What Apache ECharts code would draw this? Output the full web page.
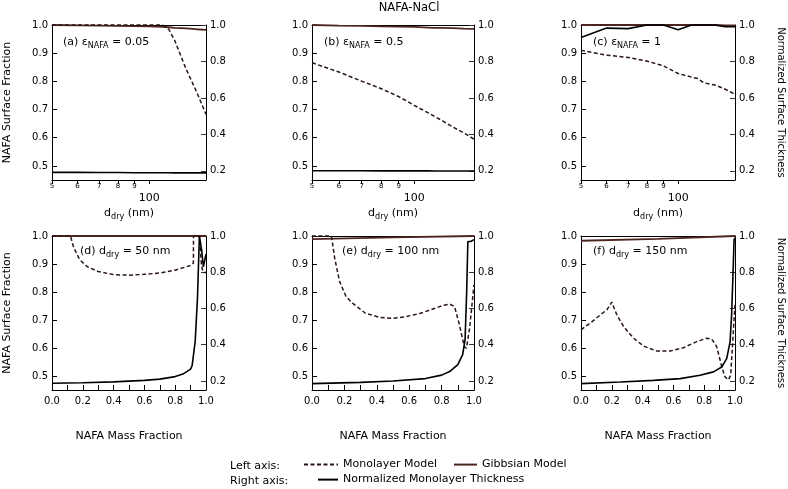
<!DOCTYPE html>
<html><head><meta charset="utf-8">
<script src="https://cdn.jsdelivr.net/npm/echarts@6/dist/echarts.min.js"></script>
<style>html,body{margin:0;padding:0;background:#fff}#c{width:788px;height:489px}</style>
</head><body><div id="c"></div>
<script>
const FONT = 'DejaVu Sans';

// ---- Top row: dry diameter (nm) on a log axis ----
const dTop   = [50, 60, 70, 80, 90, 100, 110, 115, 120, 130, 140, 150];
const monoA  = [1.0, 1.0, 1.0, 1.0, 1.0, 1.0, 1.0, 0.985, 0.945, 0.845, 0.765, 0.683];
const gibbsA = [1.0, 0.999, 0.998, 0.997, 0.996, 0.995, 0.993, 0.992, 0.990, 0.988, 0.985, 0.983];
const thickA = [0.192, 0.192, 0.191, 0.191, 0.190, 0.190, 0.190, 0.190, 0.189, 0.189, 0.189, 0.189];
const monoB  = [0.866, 0.833, 0.801, 0.774, 0.746, 0.715, 0.688, 0.675, 0.663, 0.638, 0.617, 0.595];
const gibbsB = [1.0, 0.998, 0.997, 0.995, 0.994, 0.993, 0.991, 0.990, 0.990, 0.989, 0.987, 0.986];
const thickB = [0.201, 0.201, 0.201, 0.200, 0.200, 0.200, 0.200, 0.199, 0.199, 0.199, 0.199, 0.199];
const monoC  = [0.910, 0.893, 0.885, 0.872, 0.855, 0.828, 0.815, 0.810, 0.795, 0.787, 0.772, 0.754];
const gibbsC = [1.0, 1.0, 1.0, 1.0, 1.0, 1.0, 1.0, 1.0, 1.0, 1.0, 0.999, 0.999];
const thickC = [0.932, 0.983, 0.980, 1.0, 1.0, 0.974, 1.0, 1.0, 1.0, 1.0, 0.990, 0.990];

// ---- Bottom row: NAFA mass fraction ----
const xMonoD = [0, 0.12, 0.14, 0.18, 0.23, 0.3, 0.4, 0.5, 0.6, 0.7, 0.8, 0.9, 0.918, 0.919, 0.957, 0.97, 0.98, 1.0];
const monoD  = [1.0, 1.0, 0.96, 0.915, 0.89, 0.873, 0.862, 0.86, 0.863, 0.868, 0.878, 0.895, 0.903, 1.0, 1.0, 0.9, 0.87, 0.87];
const xGibbsD = [0, 0.5, 1.0];
const gibbsD  = [1.0, 1.0, 1.0];
const xThickD = [0, 0.2, 0.4, 0.6, 0.7, 0.8, 0.85, 0.9, 0.91, 0.93, 0.945, 0.957, 0.972, 0.983, 1.0];
const thickD  = [0.187, 0.19, 0.195, 0.203, 0.21, 0.224, 0.238, 0.265, 0.285, 0.42, 0.665, 1.0, 0.92, 0.83, 0.9];

const xMonoE = [0, 0.12, 0.14, 0.17, 0.21, 0.25, 0.33, 0.42, 0.5, 0.58, 0.67, 0.75, 0.81, 0.85, 0.88, 0.91, 0.94, 0.953, 0.973, 1.0];
const monoE  = [1.0, 1.0, 0.921, 0.838, 0.784, 0.76, 0.724, 0.709, 0.706, 0.712, 0.724, 0.74, 0.752, 0.757, 0.748, 0.683, 0.605, 0.599, 0.671, 0.826];
const xGibbsE = [0, 0.5, 1.0];
const gibbsE  = [0.989, 0.995, 1.0];
const xThickE = [0, 0.3, 0.5, 0.7, 0.8, 0.85, 0.9, 0.93, 0.945, 0.955, 0.962, 0.98, 0.99, 1.0];
const thickE  = [0.185, 0.192, 0.2, 0.213, 0.232, 0.252, 0.29, 0.345, 0.43, 0.7, 0.97, 0.97, 0.975, 0.98];

const xMonoF = [0, 0.06, 0.125, 0.168, 0.2, 0.233, 0.276, 0.341, 0.406, 0.492, 0.579, 0.665, 0.752, 0.816, 0.849, 0.881, 0.914, 0.935, 0.957, 0.972, 0.985, 1.0];
const monoF  = [0.665, 0.689, 0.718, 0.736, 0.764, 0.718, 0.677, 0.635, 0.607, 0.589, 0.589, 0.601, 0.623, 0.635, 0.632, 0.605, 0.533, 0.497, 0.486, 0.503, 0.622, 0.754];
const xGibbsF = [0, 0.5, 1.0];
const gibbsF  = [0.983, 0.99, 1.0];
const xThickF = [0, 0.255, 0.471, 0.644, 0.773, 0.86, 0.914, 0.946, 0.968, 0.978, 0.989, 0.994, 1.0];
const thickF  = [0.185, 0.194, 0.203, 0.213, 0.231, 0.25, 0.277, 0.323, 0.416, 0.564, 0.841, 0.98, 0.99];

// ---- Ticks ----
const dTicks     = [50, 60, 70, 80, 90, 100];
const leftTicks  = [0.5, 0.6, 0.7, 0.8, 0.9, 1.0];
const rightTicks = [0.2, 0.4, 0.6, 0.8, 1.0];
const massTicks  = [0, 0.1, 0.2, 0.3, 0.4, 0.5, 0.6, 0.7, 0.8, 0.9, 1.0];
const massLabels = [0, 0.2, 0.4, 0.6, 0.8, 1.0];

const panelLabels = [
  '(a) {e|ε}{s|NAFA} = 0.05', '(b) {e|ε}{s|NAFA} = 0.5', '(c) {e|ε}{s|NAFA} = 1',
  '(d) d{s|dry} = 50 nm', '(e) d{s|dry} = 100 nm', '(f) d{s|dry} = 150 nm'
];

const pair = (xs, ys) => xs.map((x, i) => [x, ys[i]]);

const gridPos = [
  {left: 52, top: 25, width: 154, height: 155},
  {left: 312, top: 25, width: 162, height: 155},
  {left: 581, top: 25, width: 154, height: 155},
  {left: 52, top: 236, width: 154, height: 154},
  {left: 312, top: 236, width: 162, height: 154},
  {left: 581, top: 236, width: 154, height: 154}
];
const labelPos = [[63, 42], [324, 42], [593, 42], [80, 251], [342, 251], [593, 251]];

const panels = [
  {mono: pair(dTop, monoA), gibbs: pair(dTop, gibbsA), thick: pair(dTop, thickA)},
  {mono: pair(dTop, monoB), gibbs: pair(dTop, gibbsB), thick: pair(dTop, thickB)},
  {mono: pair(dTop, monoC), gibbs: pair(dTop, gibbsC), thick: pair(dTop, thickC)},
  {mono: pair(xMonoD, monoD), gibbs: pair(xGibbsD, gibbsD), thick: pair(xThickD, thickD)},
  {mono: pair(xMonoE, monoE), gibbs: pair(xGibbsE, gibbsE), thick: pair(xThickE, thickE)},
  {mono: pair(xMonoF, monoF), gibbs: pair(xGibbsF, gibbsF), thick: pair(xThickF, thickF)}
];

const BLACK = '#000';
const BROWN = '#4e2420';
const DASH = '#2a1614';
const subRich = {
  s: {fontSize: 8, fontFamily: FONT, color: BLACK, padding: [7, 0, 0, 0]},
  e: {fontSize: 11, fontFamily: FONT, color: BLACK}
};

const grids = [], xAxes = [], yAxes = [], series = [], graphics = [];
const line = {show: true, onZero: false, lineStyle: {color: BLACK, width: 1}};

gridPos.forEach((g, i) => {
  grids.push(Object.assign({show: false, outerBoundsMode: 'none', containLabel: false}, g));
  // top frame line
  xAxes.push({type: 'value', gridIndex: i, position: 'top', min: 0, max: 1,
    axisLine: line, axisTick: {show: false}, axisLabel: {show: false}, splitLine: {show: false}});
  let xIdx;
  if (i < 3) {
    xIdx = xAxes.length;
    xAxes.push({type: 'log', logBase: 10, gridIndex: i, min: 50, max: 150, position: 'bottom',
      axisLine: line, axisTick: {show: false}, axisLabel: {show: false}, splitLine: {show: false}, minorTick: {show: false}});
    const logTicks = dTicks.map(v => Math.log10(v));
    xAxes.push({type: 'value', gridIndex: i, position: 'bottom',
      min: Math.log10(50), max: Math.log10(150),
      axisLine: {show: false, onZero: false}, splitLine: {show: false},
      axisTick: {show: true, inside: false, length: 4, customValues: logTicks, lineStyle: {color: BLACK}},
      axisLabel: {show: true, customValues: logTicks, margin: 3, color: BLACK, fontFamily: FONT, fontSize: 7,
        formatter: v => { const d = Math.round(Math.pow(10, v)); return d === 100 ? '{b|100}' : '{s|' + (d / 10) + '}'; },
        rich: {s: {fontSize: 7, fontFamily: FONT, color: BLACK}, b: {fontSize: 11, fontFamily: FONT, color: BLACK, padding: [10, 0, 0, 0]}}},
      name: '{n|d}{s|dry}{n| (nm)}', nameLocation: 'middle', nameGap: 26,
      nameTextStyle: {fontSize: 11, fontFamily: FONT, color: BLACK,
        rich: {n: {fontSize: 11, fontFamily: FONT, color: BLACK}, s: {fontSize: 8, fontFamily: FONT, color: BLACK, padding: [7, 0, 0, 0]}}}
    });
  } else {
    xIdx = xAxes.length;
    xAxes.push({type: 'value', gridIndex: i, position: 'bottom', min: 0, max: 1,
      axisLine: line, splitLine: {show: false},
      axisTick: {show: true, inside: true, length: 5, customValues: massTicks, lineStyle: {color: BLACK}},
      axisLabel: {show: true, customValues: massLabels, margin: 6, color: BLACK, fontFamily: FONT, fontSize: 10,
        formatter: v => v.toFixed(1)},
      name: 'NAFA Mass Fraction', nameLocation: 'middle', nameGap: 41,
      nameTextStyle: {fontSize: 11, fontFamily: FONT, color: BLACK}
    });
  }
  const leftIdx = yAxes.length;
  const left = {type: 'value', gridIndex: i, position: 'left', min: 0.45, max: 1.0,
    axisLine: line, splitLine: {show: false},
    axisTick: {show: true, inside: true, length: 5, customValues: leftTicks, lineStyle: {color: BLACK}},
    axisLabel: {show: true, customValues: leftTicks, margin: 4, color: BLACK, fontFamily: FONT, fontSize: 10,
      formatter: v => v.toFixed(1)}};
  if (i === 0 || i === 3) {
    Object.assign(left, {name: 'NAFA Surface Fraction', nameLocation: 'middle', nameGap: 39,
      nameTextStyle: {fontSize: 11, fontFamily: FONT, color: BLACK}});
  }
  yAxes.push(left);
  const rightIdx = yAxes.length;
  const right = {type: 'value', gridIndex: i, position: 'right', min: 0.15, max: 1.0,
    axisLine: line, splitLine: {show: false},
    axisTick: {show: true, inside: true, length: 5, customValues: rightTicks, lineStyle: {color: '#333'}},
    axisLabel: {show: true, customValues: rightTicks, margin: 4, color: BLACK, fontFamily: FONT, fontSize: 10,
      formatter: v => v.toFixed(1)}};
  if (i === 2 || i === 5) {
    Object.assign(right, {name: 'Normalized Surface Thickness', nameLocation: 'middle', nameGap: 41,
      nameRotate: -90, nameTextStyle: {fontSize: 10, fontFamily: FONT, color: BLACK}});
  }
  yAxes.push(right);

  const p = panels[i];
  series.push({type: 'line', name: 'Gibbsian Model', xAxisIndex: xIdx, yAxisIndex: leftIdx, data: p.gibbs, clip: false,
    symbol: 'none', showSymbol: false, lineStyle: {color: BROWN, width: 1.8}, itemStyle: {color: BROWN}, z: 10});
  series.push({type: 'line', name: 'Monolayer Model', xAxisIndex: xIdx, yAxisIndex: leftIdx, data: p.mono, clip: false,
    symbol: 'none', showSymbol: false, lineStyle: {color: DASH, width: 1.5, type: [4, 2.5]}, itemStyle: {color: DASH}, z: 11});
  series.push({type: 'line', name: 'Normalized Monolayer Thickness', xAxisIndex: xIdx, yAxisIndex: rightIdx, data: p.thick, clip: false,
    symbol: 'none', showSymbol: false, lineStyle: {color: BLACK, width: 1.6}, itemStyle: {color: BLACK}, z: 12});

  graphics.push({type: 'text', x: labelPos[i][0], y: labelPos[i][1], z: 20,
    style: {text: panelLabels[i], fontSize: 11, fontFamily: FONT, fill: BLACK, verticalAlign: 'middle', rich: subRich}});
});

graphics.push({type: 'text', x: 409, y: 8, style: {text: 'NAFA-NaCl', fontSize: 11.5, fontFamily: FONT, fill: BLACK, align: 'center', verticalAlign: 'middle'}});
graphics.push({type: 'text', x: 230, y: 466, style: {text: 'Left axis:', fontSize: 11, fontFamily: FONT, fill: BLACK, verticalAlign: 'middle'}});
graphics.push({type: 'text', x: 230, y: 481, style: {text: 'Right axis:', fontSize: 11, fontFamily: FONT, fill: BLACK, verticalAlign: 'middle'}});

const legendBase = {orient: 'horizontal', padding: 0, itemHeight: 14, selectedMode: false,
  itemStyle: {opacity: 0, borderWidth: 0},
  textStyle: {fontSize: 11, fontFamily: FONT, color: BLACK}};
const legends = [
  Object.assign({}, legendBase, {data: ['Monolayer Model'], left: 303, top: 459, itemWidth: 34}),
  Object.assign({}, legendBase, {data: ['Gibbsian Model'], left: 453, top: 459, itemWidth: 23}),
  Object.assign({}, legendBase, {data: ['Normalized Monolayer Thickness'], left: 317, top: 474, itemWidth: 20})
];

const chart = echarts.init(document.getElementById('c'), null, {renderer: 'canvas'});
chart.setOption({
  animation: false,
  backgroundColor: '#fff',
  textStyle: {fontFamily: FONT},
  grid: grids, xAxis: xAxes, yAxis: yAxes, series: series,
  legend: legends, graphic: graphics
});
</script></body></html>
